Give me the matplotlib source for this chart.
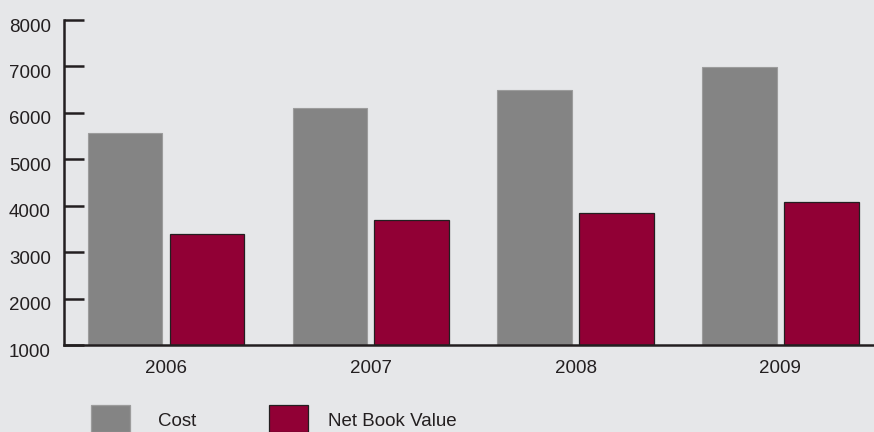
import matplotlib
matplotlib.use("Agg")
import matplotlib.pyplot as plt
import matplotlib.transforms as mtransforms
from matplotlib.patches import Rectangle
import numpy as np

years = ["2006", "2007", "2008", "2009"]
cost = [5570, 6100, 6500, 6980]
net_book_value = [3390, 3690, 3850, 4080]
series_names = ["Cost", "Net Book Value"]
y_ticks = [1000, 2000, 3000, 4000, 5000, 6000, 7000, 8000]

BG = "#e6e7e9"
GREY = "#848484"
MAROON = "#910035"
INK = "#231f20"
FS = 13.5

plt.rcParams["font.family"] = ["Liberation Sans", "DejaVu Sans"]

fig = plt.figure(figsize=(8.74, 4.32), dpi=100, facecolor=BG)
ax = fig.add_axes([64 / 874, 1 - 345.3 / 432, 1 - 64 / 874, (345.3 - 20) / 432])
ax.set_facecolor(BG)

x = np.arange(len(years))
width = 0.364
offset = 0.2
ax.bar(x - offset, np.array(cost) - 1000, width, bottom=1000,
       color=GREY, edgecolor="#9c9c9c", linewidth=0.8, zorder=2)
ax.bar(x + offset, np.array(net_book_value) - 1000, width, bottom=1000,
       color=MAROON, edgecolor=INK, linewidth=0.9, zorder=2)

ax.set_xlim(-0.498, 3.457)
ax.set_ylim(1000, 8000)

for side in ("top", "right"):
    ax.spines[side].set_visible(False)
for side in ("left", "bottom"):
    ax.spines[side].set_color(INK)
    ax.spines[side].set_linewidth(1.8)
    ax.spines[side].set_zorder(3)

ax.set_yticks(y_ticks)
ax.set_yticklabels([str(v) for v in y_ticks])
ax.tick_params(axis="y", direction="in", length=14.4, width=1.8, color=INK,
               labelsize=FS, labelcolor=INK, pad=9.5)
for lbl in ax.get_yticklabels():
    lbl.set_transform(lbl.get_transform() +
                      mtransforms.ScaledTranslation(0, -5 / 100, fig.dpi_scale_trans))

ax.set_xticks(x)
ax.set_xticklabels(years)
ax.tick_params(axis="x", length=0, labelsize=FS, labelcolor=INK, pad=10.5)

# legend drawn in figure pixel space
legend_items = [(91, GREY, "#9c9c9c", 158), (268.5, MAROON, INK, 328)]
for (px, fc, ec, tx), name in zip(legend_items, series_names):
    fig.patches.append(Rectangle((px / 874, 0), 39 / 874, (432 - 404.5) / 432,
                                 transform=fig.transFigure, facecolor=fc,
                                 edgecolor=ec, linewidth=0.9))
    fig.text(tx / 874, 1 - 421.5 / 432, name, fontsize=FS, color=INK,
             va="center", ha="left")

fig.savefig("out.png", dpi=100, facecolor=BG)
